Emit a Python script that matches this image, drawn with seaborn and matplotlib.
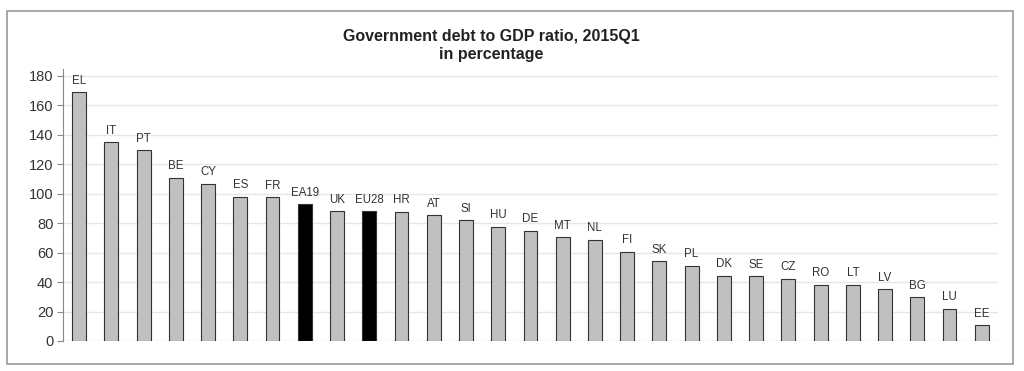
import matplotlib
matplotlib.use("Agg")
import matplotlib.pyplot as plt
import seaborn as sns
import pandas as pd
from matplotlib.patches import Rectangle

countries = ["EL", "IT", "PT", "BE", "CY", "ES", "FR", "EA19", "UK", "EU28",
             "HR", "AT", "SI", "HU", "DE", "MT", "NL", "FI", "SK", "PL",
             "DK", "SE", "CZ", "RO", "LT", "LV", "BG", "LU", "EE"]
debt_ratio = [168.8, 135.1, 129.6, 111.0, 106.8, 98.0, 97.5, 92.9, 88.2, 88.2,
              87.7, 85.4, 82.1, 77.6, 74.7, 70.5, 68.8, 60.6, 54.0, 51.1,
              44.1, 44.0, 42.3, 38.1, 38.0, 35.2, 29.8, 22.0, 10.5]
aggregates = ["EA19", "EU28"]
yticks = [0, 20, 40, 60, 80, 100, 120, 140, 160, 180]
title = "Government debt to GDP ratio, 2015Q1\nin percentage"

sns.set_theme(style="white")
plt.rcParams["font.family"] = ["Liberation Sans", "DejaVu Sans"]

df = pd.DataFrame({"country": countries, "value": debt_ratio})
palette = {c: ("#000000" if c in aggregates else "#c0c0c0") for c in countries}

fig = plt.figure(figsize=(10.24, 3.71), dpi=100)
ax = fig.add_axes([0.0615, 0.081, 0.913, 0.734])

sns.barplot(data=df, x="country", y="value", hue="country", palette=palette,
            legend=False, width=0.43, edgecolor="#333333", linewidth=0.8, ax=ax,
            zorder=3)

for i, (c, v) in enumerate(zip(countries, debt_ratio)):
    ax.annotate(c, (i, v), xytext=(0, 4), textcoords="offset points",
                ha="center", va="bottom", fontsize=8.3, color="#333333")

ax.set_xlim(-0.5, 28.5)
ax.set_ylim(0, 185)
ax.set_yticks(yticks)
ax.set_yticklabels([str(t) for t in yticks], fontsize=10.5, color="#333333")
ax.set_xticks([])
ax.set_xlabel("")
ax.set_ylabel("")
ax.yaxis.grid(True, color="#e6e6e6", linewidth=1.0, zorder=0)
ax.set_axisbelow(True)
for s in ["top", "right", "bottom"]:
    ax.spines[s].set_visible(False)
ax.spines["left"].set_color("#888888")
ax.spines["left"].set_linewidth(0.8)
ax.tick_params(axis="y", which="both", left=True, length=4, width=0.8,
               color="#888888", pad=3)
ax.axhline(0, color="#cccccc", linewidth=0.8, zorder=1)

fig.text(0.48, 0.877, title, ha="center", va="center", fontsize=11.5,
         fontweight="bold", color="#222222", linespacing=1.25)

fig.patches.append(Rectangle((7 / 1024, 1 - 364 / 371), (1013 - 7) / 1024,
                             (364 - 11) / 371, transform=fig.transFigure,
                             fill=False, edgecolor="#999999", linewidth=1.2))

fig.savefig("out.png", dpi=100, facecolor="white")
